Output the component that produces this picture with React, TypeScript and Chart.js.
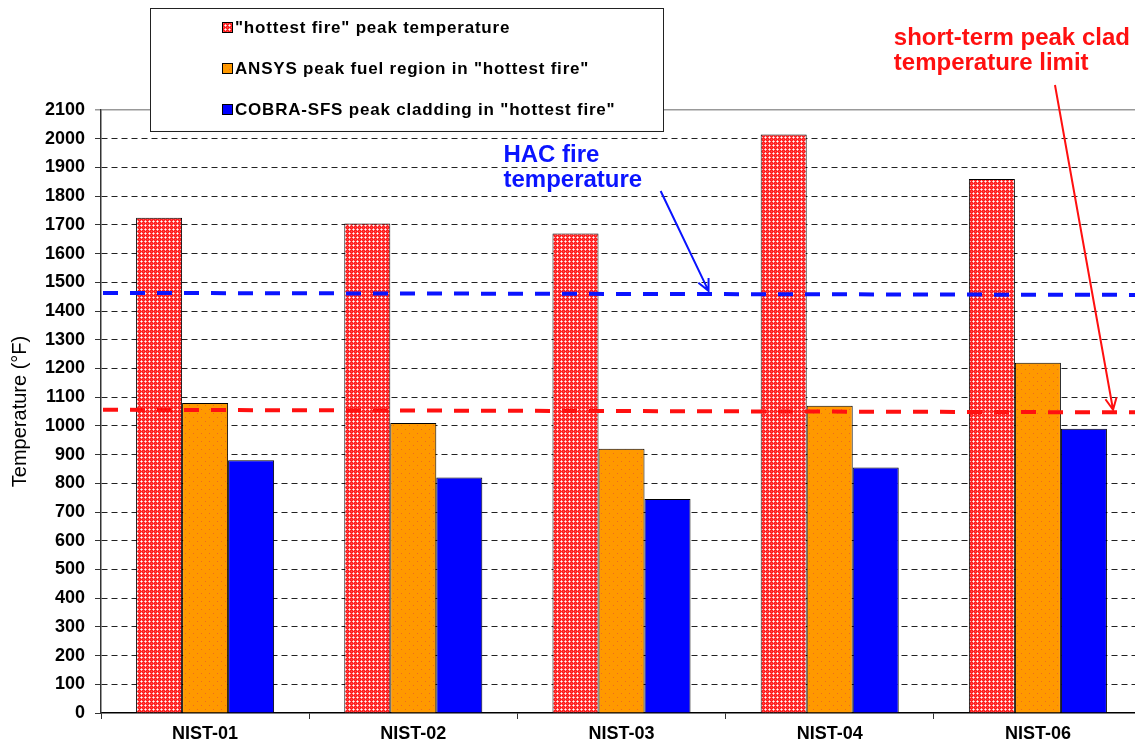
import React, { useEffect, useRef } from "react";
import { Chart, registerables } from "chart.js";

Chart.register(...registerables);

// ---------- data ----------
const categories = ["NIST-01", "NIST-02", "NIST-03", "NIST-04", "NIST-06"];
const hottestFire = [1725, 1705, 1670, 2015, 1860];
const ansysFuel = [1080, 1010, 920, 1070, 1220];
const cobraClad = [880, 820, 745, 855, 990];
const seriesLabels = [
  '"hottest fire" peak temperature',
  'ANSYS peak fuel region in "hottest fire"',
  'COBRA-SFS peak cladding in "hottest fire"',
];
const yMin = 0;
const yMax = 2100;
const yStep = 100;
const yTitle = "Temperature (°F)";
// reference lines: value at left edge, value at right edge
const hacLine = [1463, 1456];
const cladLine = [1056, 1047];
const hacText = ["HAC fire", "temperature"];
const cladText = ["short-term peak clad", "temperature limit"];
// annotation anchors in data space: [category index, value]
const hacTextAt = [1.433, 1919];
const hacArrow = [[2.188, 1818], [2.418, 1470]];
const cladTextAt = [3.308, 2326];
const cladArrow = [[4.082, 2187], [4.361, 1056]];

const FONT = "Arial, 'Liberation Sans', sans-serif";

function makeRedPattern(): CanvasPattern | string {
  const c = document.createElement("canvas");
  c.width = 4;
  c.height = 4;
  const g = c.getContext("2d");
  if (!g) return "#ff3030";
  g.fillStyle = "#ff2020";
  g.fillRect(0, 0, 4, 4);
  g.fillStyle = "#ffb0b0";
  g.fillRect(1, 0, 1, 1);
  g.fillRect(0, 1, 1, 1);
  g.fillRect(2, 1, 1, 1);
  g.fillRect(1, 2, 1, 1);
  g.fillStyle = "#ffffff";
  g.fillRect(1, 1, 1, 1);
  g.fillStyle = "#ff5050";
  g.fillRect(3, 3, 1, 1);
  const p = g.createPattern(c, "repeat");
  return p || "#ff3030";
}

function makeOrangePattern(): CanvasPattern | string {
  const c = document.createElement("canvas");
  c.width = 8;
  c.height = 8;
  const g = c.getContext("2d");
  if (!g) return "#ff9900";
  g.fillStyle = "#ff9900";
  g.fillRect(0, 0, 8, 8);
  g.fillStyle = "#ee6a20";
  g.fillRect(1, 1, 1, 1);
  g.fillRect(5, 5, 1, 1);
  const p = g.createPattern(c, "repeat");
  return p || "#ff9900";
}

function arrow(ctx: CanvasRenderingContext2D, x1: number, y1: number, x2: number, y2: number, color: string) {
  ctx.save();
  ctx.strokeStyle = color;
  ctx.lineWidth = 2;
  ctx.beginPath();
  ctx.moveTo(x1, y1);
  ctx.lineTo(x2, y2);
  const a = Math.atan2(y2 - y1, x2 - x1);
  const L = 13;
  const s = 0.45;
  ctx.moveTo(x2 - L * Math.cos(a - s), y2 - L * Math.sin(a - s));
  ctx.lineTo(x2, y2);
  ctx.lineTo(x2 - L * Math.cos(a + s), y2 - L * Math.sin(a + s));
  ctx.stroke();
  ctx.restore();
}

export default function App() {
  const ref = useRef<HTMLCanvasElement | null>(null);

  useEffect(() => {
    const canvas = ref.current;
    if (!canvas) return;
    const redP = makeRedPattern();
    const orangeP = makeOrangePattern();
    const fills = [redP, orangeP, "#0000ff"];

    const overlay = {
      id: "overlay",
      afterDatasetsDraw(chart: any) {
        const { ctx, chartArea, scales } = chart;
        const x = scales.x;
        const y = scales.y;
        ctx.save();
        // reference dashed lines
        const refLine = (vals: number[], color: string) => {
          ctx.save();
          ctx.strokeStyle = color;
          ctx.lineWidth = 4;
          ctx.setLineDash([15, 12]);
          ctx.beginPath();
          ctx.moveTo(chartArea.left + 2, y.getPixelForValue(vals[0]));
          ctx.lineTo(chartArea.right, y.getPixelForValue(vals[1]));
          ctx.stroke();
          ctx.restore();
        };
        refLine(hacLine, "#0a14ff");
        refLine(cladLine, "#ff1010");

        // annotation texts
        ctx.font = `bold 24px ${FONT}`;
        ctx.textAlign = "left";
        ctx.textBaseline = "alphabetic";
        ctx.fillStyle = "#0a14ff";
        const hx = x.getPixelForValue(hacTextAt[0]);
        const hy = y.getPixelForValue(hacTextAt[1]);
        hacText.forEach((t, i) => ctx.fillText(t, hx, hy + i * 25));
        ctx.fillStyle = "#ff1010";
        const cx = x.getPixelForValue(cladTextAt[0]);
        const cy = y.getPixelForValue(cladTextAt[1]);
        cladText.forEach((t, i) => ctx.fillText(t, cx, cy + i * 25));

        arrow(
          ctx,
          x.getPixelForValue(hacArrow[0][0]), y.getPixelForValue(hacArrow[0][1]),
          x.getPixelForValue(hacArrow[1][0]), y.getPixelForValue(hacArrow[1][1]),
          "#0a14ff"
        );
        arrow(
          ctx,
          x.getPixelForValue(cladArrow[0][0]), y.getPixelForValue(cladArrow[0][1]),
          x.getPixelForValue(cladArrow[1][0]), y.getPixelForValue(cladArrow[1][1]),
          "#ff1010"
        );

        // legend box
        const bx = 150, by = 8, bw = 513, bh = 123;
        ctx.fillStyle = "#ffffff";
        ctx.fillRect(bx, by, bw, bh);
        ctx.strokeStyle = "#222";
        ctx.lineWidth = 1;
        ctx.setLineDash([]);
        ctx.strokeRect(bx + 0.5, by + 0.5, bw, bh);
        ctx.font = `bold 17px ${FONT}`;
        try { (ctx as any).letterSpacing = "0.8px"; } catch (e) {}
        ctx.textBaseline = "middle";
        const rows = [27, 68, 109];
        seriesLabels.forEach((lab, i) => {
          const ry = rows[i];
          ctx.fillStyle = fills[i] as any;
          ctx.fillRect(223, ry - 4, 9, 9);
          ctx.strokeStyle = "#000";
          ctx.strokeRect(222.5, ry - 4.5, 10, 10);
          ctx.fillStyle = "#000";
          ctx.fillText(lab, 235, ry + 1);
        });
        try { (ctx as any).letterSpacing = "0px"; } catch (e) {}
        ctx.restore();
      },
    };

    const chart = new Chart(canvas, {
      type: "bar",
      data: {
        labels: categories,
        datasets: [
          { label: seriesLabels[0], data: hottestFire, backgroundColor: redP as any, borderColor: "#000", borderWidth: 1 },
          { label: seriesLabels[1], data: ansysFuel, backgroundColor: orangeP as any, borderColor: "#000", borderWidth: 1 },
          { label: seriesLabels[2], data: cobraClad, backgroundColor: "#0000ff", borderColor: "#000", borderWidth: 1 },
        ],
      },
      options: {
        animation: false,
        responsive: false,
        devicePixelRatio: 1,
        layout: { padding: { top: 110, right: 1, bottom: 0, left: 0 } },
        datasets: { bar: { categoryPercentage: 0.663, barPercentage: 1.0 } },
        plugins: { legend: { display: false }, tooltip: { enabled: false }, title: { display: false } },
        scales: {
          x: {
            type: "category",
            offset: true,
            afterFit: (s: any) => { s.height = 31; },
            grid: { display: true, offset: true, drawOnChartArea: false, drawTicks: true, tickLength: 6, color: "#000", tickColor: "#333", lineWidth: 1 },
            border: { display: true, color: "#000", width: 1.5 },
            ticks: { color: "#000", font: { family: FONT, size: 18, weight: "bold" }, padding: 4, maxRotation: 0 },
          },
          y: {
            type: "linear",
            min: yMin,
            max: yMax,
            afterFit: (s: any) => { s.width = 101; },
            ticks: {
              stepSize: yStep,
              color: "#000",
              font: { family: FONT, size: 18, weight: "bold" },
              padding: 10,
              callback: (v: any) => String(v),
            },
            grid: {
              tickLength: 6,
              lineWidth: (c: any) => (c.tick && c.tick.value === yMax ? 1.5 : 1),
              color: (c: any) => (c.tick && c.tick.value === yMax ? "#999" : c.tick && c.tick.value === 0 ? "rgba(0,0,0,0)" : "#222"),
              tickColor: (c: any) => (c.tick && c.tick.value === yMax ? "#999" : "#333"),
              tickBorderDash: [],
            },
            border: {
              display: true,
              color: "#333",
              width: 1.5,
              dash: (c: any) => (c.tick && c.tick.value === yMax ? [] : [6, 4]),
            },
            title: { display: true, text: yTitle, color: "#000", font: { family: FONT, size: 20, weight: "normal" }, padding: { top: 8, bottom: 0 } },
          },
        },
      },
      plugins: [overlay],
    } as any);

    return () => chart.destroy();
  }, []);

  return (
    <div style={{ position: "absolute", left: 0, top: 0, width: 1135, height: 744, overflow: "hidden", background: "#fff" }}>
      <canvas ref={ref} width={1143} height={744} style={{ width: 1143, height: 744, display: "block" }} />
    </div>
  );
}
